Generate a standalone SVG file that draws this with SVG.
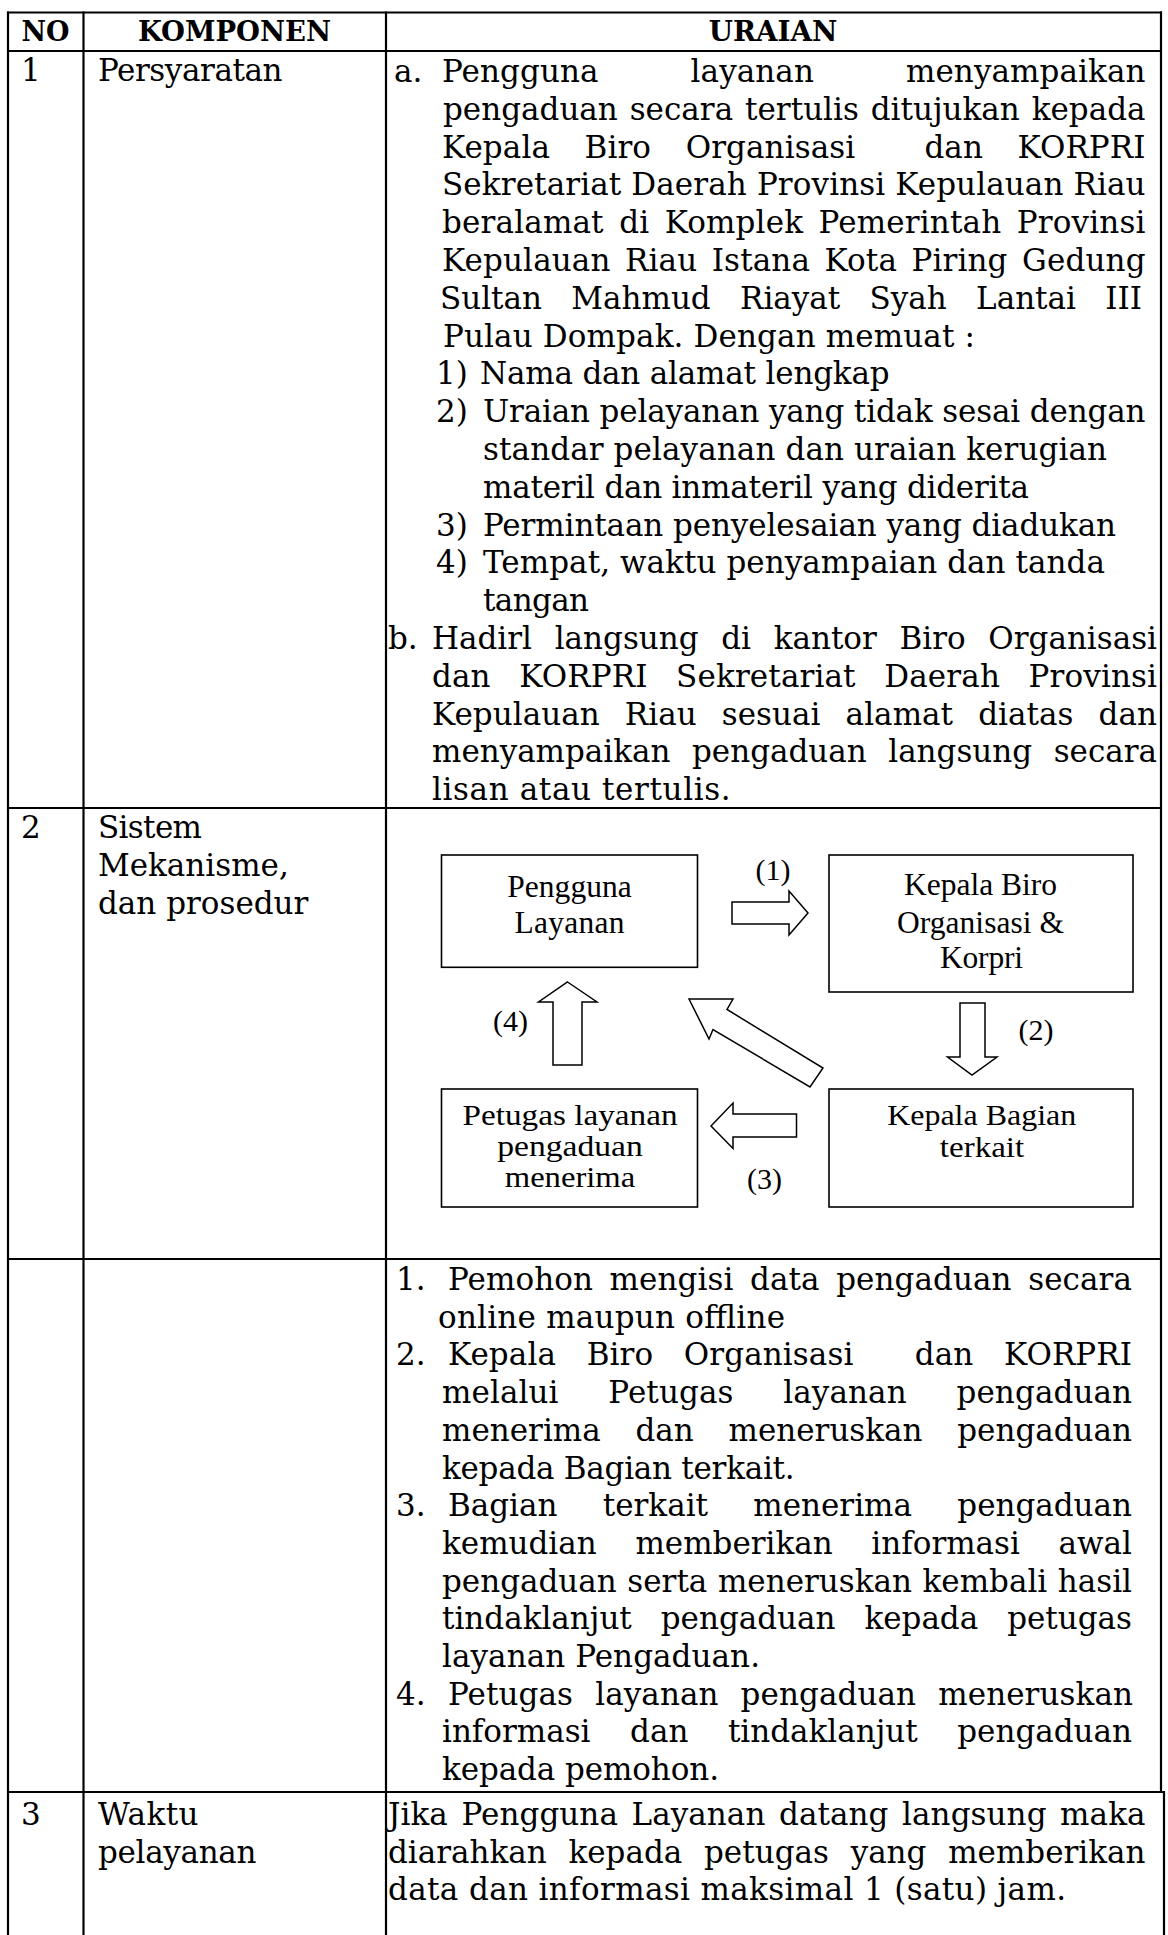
<svg xmlns="http://www.w3.org/2000/svg" width="1168" height="1935" viewBox="0 0 1168 1935">
<style>
.t{font-family:"DejaVu Serif","Liberation Serif",serif;font-size:31px;fill:#000}
.h{font-family:"DejaVu Serif","Liberation Serif",serif;font-weight:bold;font-size:27.5px;text-anchor:middle;fill:#000}
.d{font-family:"Liberation Serif","Times New Roman",serif;font-size:31.5px;text-anchor:middle;fill:#000}
.d2{font-family:"Liberation Serif","Times New Roman",serif;font-size:28.5px;text-anchor:middle;fill:#000}
.lb{font-family:"Liberation Serif","Times New Roman",serif;font-size:30px;text-anchor:middle;fill:#000}
.grid line{stroke:#000;stroke-width:2.2}
.box{fill:#fff;stroke:#000;stroke-width:1.6}
.arr{fill:#fff;stroke:#000;stroke-width:1.5;stroke-linejoin:miter}
</style>
<rect x="0" y="0" width="1168" height="1935" fill="#fff"/>
<g id="table-grid" class="grid">
<line x1="7" y1="12.5" x2="1162" y2="12.5"/>
<line x1="7" y1="51" x2="1162" y2="51"/>
<line x1="7" y1="808" x2="1162" y2="808"/>
<line x1="7" y1="1259" x2="1162" y2="1259"/>
<line x1="7" y1="1792" x2="1165" y2="1792"/>
<line x1="8" y1="11.5" x2="8" y2="1935"/>
<line x1="83.5" y1="11.5" x2="83.5" y2="1935"/>
<line x1="386" y1="11.5" x2="386" y2="1935"/>
<line x1="1161" y1="11.5" x2="1161" y2="1793"/>
<line x1="1164" y1="1791" x2="1164" y2="1935"/>
</g>
<g id="header">
<text class="h" x="45.5" y="41" textLength="48" lengthAdjust="spacingAndGlyphs">NO</text>
<text class="h" x="234.5" y="41" textLength="193" lengthAdjust="spacingAndGlyphs">KOMPONEN</text>
<text class="h" x="773" y="41" textLength="128.5" lengthAdjust="spacingAndGlyphs">URAIAN</text>
</g>
<g id="row1">
<text class="t" x="21" y="81">1</text>
<text class="t" x="98" y="81" textLength="184.5">Persyaratan</text>
<text class="t" x="394" y="82">a.</text>
<text class="t" x="442" y="82" textLength="703.5" style="word-spacing:82px">Pengguna layanan menyampaikan</text>
<text class="t" x="443" y="119.8" textLength="702.5" style="word-spacing:2px">pengaduan secara tertulis ditujukan kepada</text>
<text class="t" x="442" y="157.6" textLength="703.5" xml:space="preserve" style="word-spacing:24.6px;white-space:pre">Kepala Biro Organisasi  dan KORPRI</text>
<text class="t" x="442" y="195.4" textLength="703.5">Sekretariat Daerah Provinsi Kepulauan Riau</text>
<text class="t" x="442" y="233.2" textLength="703.5" style="word-spacing:5.4px">beralamat di Komplek Pemerintah Provinsi</text>
<text class="t" x="442" y="271" textLength="703.5" style="word-spacing:4.4px">Kepulauan Riau Istana Kota Piring Gedung</text>
<text class="t" x="440" y="308.8" textLength="702" style="word-spacing:19.5px">Sultan Mahmud Riayat Syah Lantai III</text>
<text class="t" x="443" y="346.6" textLength="532">Pulau Dompak. Dengan memuat :</text>
<text class="t" x="436" y="384.4">1)</text>
<text class="t" x="480" y="384.4" textLength="409.6">Nama dan alamat lengkap</text>
<text class="t" x="436" y="422.2">2)</text>
<text class="t" x="483" y="422.2" textLength="662.5">Uraian pelayanan yang tidak sesai dengan</text>
<text class="t" x="483" y="460" textLength="624">standar pelayanan dan uraian kerugian</text>
<text class="t" x="483" y="497.8" textLength="546">materil dan inmateril yang diderita</text>
<text class="t" x="436" y="535.6">3)</text>
<text class="t" x="483" y="535.6" textLength="633">Permintaan penyelesaian yang diadukan</text>
<text class="t" x="436" y="573.4">4)</text>
<text class="t" x="483" y="573.4" textLength="622">Tempat, waktu penyampaian dan tanda</text>
<text class="t" x="483" y="611.2" textLength="106">tangan</text>
<text class="t" x="388" y="649">b.</text>
<text class="t" x="432" y="649" textLength="725" style="word-spacing:12.8px">Hadirl langsung di kantor Biro Organisasi</text>
<text class="t" x="432" y="686.8" textLength="725" style="word-spacing:18.6px">dan KORPRI Sekretariat Daerah Provinsi</text>
<text class="t" x="432" y="724.6" textLength="725" style="word-spacing:15.1px">Kepulauan Riau sesuai alamat diatas dan</text>
<text class="t" x="432" y="762.4" textLength="725" style="word-spacing:11.8px">menyampaikan pengaduan langsung secara</text>
<text class="t" x="432" y="800.2" textLength="298.6">lisan atau tertulis.</text>
</g>
<g id="row2-labels">
<text class="t" x="21" y="838">2</text>
<text class="t" x="98" y="838" textLength="104">Sistem</text>
<text class="t" x="98" y="876">Mekanisme,</text>
<text class="t" x="98" y="914">dan prosedur</text>
</g>
<g id="node-pengguna">
<rect class="box" x="441.5" y="855" width="256" height="112.3"/>
<text class="d" x="569.5" y="896.5" textLength="124.5">Pengguna</text>
<text class="d" x="569.5" y="933.3" textLength="110">Layanan</text>
</g>
<g id="node-kepala-biro">
<rect class="box" x="829" y="855" width="304" height="137"/>
<text class="d" x="980.5" y="895" textLength="153">Kepala Biro</text>
<text class="d" x="980.5" y="932.7" textLength="167">Organisasi &amp;</text>
<text class="d" x="981.5" y="968.3" textLength="83">Korpri</text>
</g>
<g id="node-petugas">
<rect class="box" x="441.5" y="1089" width="256" height="118"/>
<text class="d2" x="570" y="1125" textLength="215" lengthAdjust="spacingAndGlyphs">Petugas layanan</text>
<text class="d2" x="570" y="1156.2" textLength="145.6" lengthAdjust="spacingAndGlyphs">pengaduan</text>
<text class="d2" x="570" y="1187" textLength="130.5" lengthAdjust="spacingAndGlyphs">menerima</text>
</g>
<g id="node-kepala-bagian">
<rect class="box" x="829" y="1089" width="304" height="118"/>
<text class="d2" x="981.7" y="1125" textLength="189" lengthAdjust="spacingAndGlyphs">Kepala Bagian</text>
<text class="d2" x="982" y="1156.7" textLength="84.3" lengthAdjust="spacingAndGlyphs">terkait</text>
</g>
<g id="connectors">
<polygon class="arr" points="732,902 789,902 789,891 808,913 789,935 789,924 732,924"/>
<polygon class="arr" points="960,1003 985,1003 985,1057 997,1057 972,1075 947.5,1057 960,1057"/>
<polygon class="arr" points="711,1126 733,1103 733,1114 796.5,1114 796.5,1137 733,1137 733,1148.5"/>
<polygon class="arr" points="567.5,982 597,1002 582,1002 582,1065 553,1065 553,1002 538.5,1002"/>
<polygon class="arr" points="689,999 733,999 727,1009.5 823,1068 810,1087 713,1029.5 709,1039"/>
<text class="lb" x="773" y="880">(1)</text>
<text class="lb" x="1036" y="1040">(2)</text>
<text class="lb" x="764.5" y="1189">(3)</text>
<text class="lb" x="510.5" y="1031">(4)</text>
</g>
<g id="row2b">
<text class="t" x="396" y="1290">1.</text>
<text class="t" x="448" y="1290" textLength="684" style="word-spacing:6.6px">Pemohon mengisi data pengaduan secara</text>
<text class="t" x="438" y="1327.7" textLength="347">online maupun offline</text>
<text class="t" x="396" y="1365.4">2.</text>
<text class="t" x="448" y="1365.4" textLength="684" xml:space="preserve" style="word-spacing:20.7px;white-space:pre">Kepala Biro Organisasi  dan KORPRI</text>
<text class="t" x="442" y="1403.1" textLength="690" style="word-spacing:39.8px">melalui Petugas layanan pengaduan</text>
<text class="t" x="442" y="1440.8" textLength="690" style="word-spacing:24.9px">menerima dan meneruskan pengaduan</text>
<text class="t" x="442" y="1478.5" textLength="352.6">kepada Bagian terkait.</text>
<text class="t" x="396" y="1516.2">3.</text>
<text class="t" x="448" y="1516.2" textLength="684" style="word-spacing:35.5px">Bagian terkait menerima pengaduan</text>
<text class="t" x="442" y="1553.9" textLength="690" style="word-spacing:28.8px">kemudian memberikan informasi awal</text>
<text class="t" x="442" y="1591.6" textLength="690" style="word-spacing:0.8px">pengaduan serta meneruskan kembali hasil</text>
<text class="t" x="442" y="1629.3" textLength="690" style="word-spacing:19.1px">tindaklanjut pengaduan kepada petugas</text>
<text class="t" x="442" y="1667" textLength="318">layanan Pengaduan.</text>
<text class="t" x="396" y="1704.7">4.</text>
<text class="t" x="448" y="1704.7" textLength="685" style="word-spacing:12.1px">Petugas layanan pengaduan meneruskan</text>
<text class="t" x="442" y="1742.4" textLength="690" style="word-spacing:29.7px">informasi dan tindaklanjut pengaduan</text>
<text class="t" x="442" y="1780.1" textLength="277">kepada pemohon.</text>
</g>
<g id="row3">
<text class="t" x="21" y="1825">3</text>
<text class="t" x="98" y="1825" textLength="100.5">Waktu</text>
<text class="t" x="98" y="1862.7" textLength="158.5">pelayanan</text>
<text class="t" x="388" y="1825" textLength="757.5" style="word-spacing:3.6px">Jika Pengguna Layanan datang langsung maka</text>
<text class="t" x="388" y="1862.7" textLength="757.5" style="word-spacing:11.9px">diarahkan kepada petugas yang memberikan</text>
<text class="t" x="388" y="1900.4" textLength="678">data dan informasi maksimal 1 (satu) jam.</text>
</g>
</svg>
